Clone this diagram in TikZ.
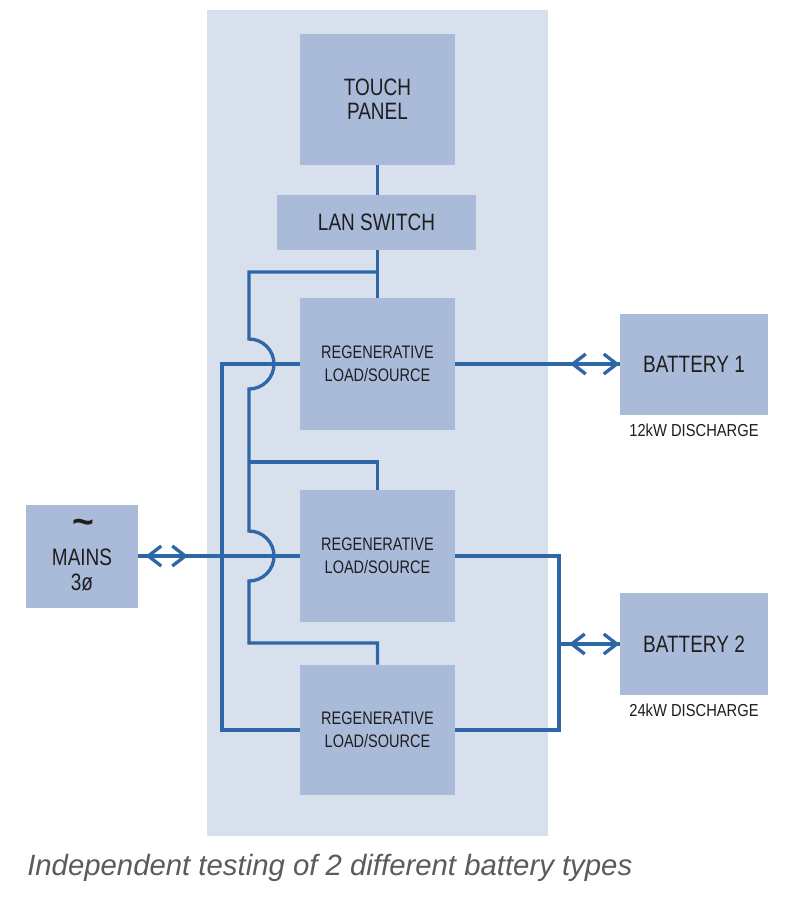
\documentclass[tikz,border=0pt]{standalone}
\usepackage{fontspec}
\setmainfont{Liberation Sans}
\newfontfamily\cond[FakeStretch=0.8]{Liberation Sans}
\newfontfamily\condl[FakeStretch=0.85]{Liberation Sans}
\definecolor{panelc}{HTML}{D9E0ED}
\definecolor{boxc}{HTML}{AABBD9}
\definecolor{wirec}{HTML}{2E67A5}
\definecolor{txtc}{HTML}{1E1E1E}
\definecolor{capc}{HTML}{5B5B5B}
\tikzset{
  box/.style 2 args={fill=boxc, draw=none, inner sep=0pt, minimum width=#1*0.75pt, minimum height=#2*0.75pt, text=txtc, align=center},
  wire/.style={draw=wirec, line width=2.5pt},
  chev/.style={draw=wirec, line width=2.5pt, line join=miter},
  bigf/.style={font={\cond\fontsize{17.8}{18}\selectfont}},
  regf/.style={font={\cond\fontsize{13.6}{17}\selectfont}},
  smallf/.style={font={\condl\fontsize{13}{15}\selectfont}, text=txtc},
  chevR/.pic={\draw[chev] (-13,-10) -- (0,0) -- (-13,10);},
  chevL/.pic={\draw[chev] (13,-10) -- (0,0) -- (13,10);},
}
\begin{document}
\begin{tikzpicture}[x=0.75pt,y=-0.75pt]
\useasboundingbox (0,0) rectangle (800,900);
\fill[white] (0,0) rectangle (800,900);
\fill[panelc] (207,10) rectangle (548,836);

% nodes
\node[box={155}{131}, bigf] (touch) at (377.5,99.5) {TOUCH\\PANEL};
\node[box={199}{55}, bigf] (lan) at (376.5,222.5) {LAN SWITCH};
\node[box={155}{132}, regf] (reg1) at (377.5,364) {REGENERATIVE\\LOAD/SOURCE};
\node[box={155}{132}, regf] (reg2) at (377.5,556) {REGENERATIVE\\LOAD/SOURCE};
\node[box={155}{130}, regf] (reg3) at (377.5,730) {REGENERATIVE\\LOAD/SOURCE};
\node[box={148}{101}, bigf] (bat1) at (694,364) {BATTERY 1};
\node[box={148}{102}, bigf] (bat2) at (694,644) {BATTERY 2};
\node[box={112}{103}] (mains) at (82,556) {};
\node[anchor=base, text=txtc, font={\bfseries\fontsize{28}{28}\selectfont}] (tilde) at (83,534) {\textasciitilde};
\node[anchor=base, text=txtc, bigf] (mainsl) at (82,565) {MAINS};
\node[anchor=base, text=txtc, bigf] (phase) at (82,590) {3ø};
\node[smallf] (cap1) at (694,430) {12kW DISCHARGE};
\node[smallf] (cap2) at (694,710) {24kW DISCHARGE};
\node[anchor=base west, inner sep=0pt, text=capc, font={\itshape\fontsize{22}{26}\selectfont}] (caption) at (27,875) {Independent testing of 2 different battery types};

\coordinate (lx) at (222,0);
\coordinate (rx) at (559,0);

% wires
\draw[wire] (touch.south) -- (touch.south |- lan.north);
\draw[wire] (reg1.north |- lan.south) -- (reg1.north);
\draw[wire] (reg1.north |- 0,272) -- (249,272) -- (249,339)
  arc[start angle=90, end angle=-90, radius=18.75pt] -- (249,531)
  arc[start angle=90, end angle=-90, radius=18.75pt] -- (249,643) -- (reg3.north |- 0,643) -- (reg3.north);
\draw[wire] (249,462) -- (reg2.north |- 0,462) -- (reg2.north);
\draw[wire] (reg1.west) -- (reg1.west -| lx) -- (reg3.west -| lx) -- (reg3.west);
\draw[wire] (mains.east) -- (reg2.west);
\draw[wire] (reg2.east) -- (reg2.east -| rx) -- (reg3.east -| rx) -- (reg3.east);
\draw[wire] (bat2.west -| rx) -- (bat2.west);
\draw[wire] (reg1.east) -- (bat1.west);

% chevrons
\pic at ([xshift=7.5pt]mains.east) {chevL};
\pic at ([xshift=35.25pt]mains.east) {chevR};
\pic at ([xshift=-2.25pt]bat1.west) {chevR};
\pic at ([xshift=-35.25pt]bat1.west) {chevL};
\pic at ([xshift=-2.25pt]bat2.west) {chevR};
\pic at ([xshift=-36pt]bat2.west) {chevL};
\end{tikzpicture}
\end{document}
